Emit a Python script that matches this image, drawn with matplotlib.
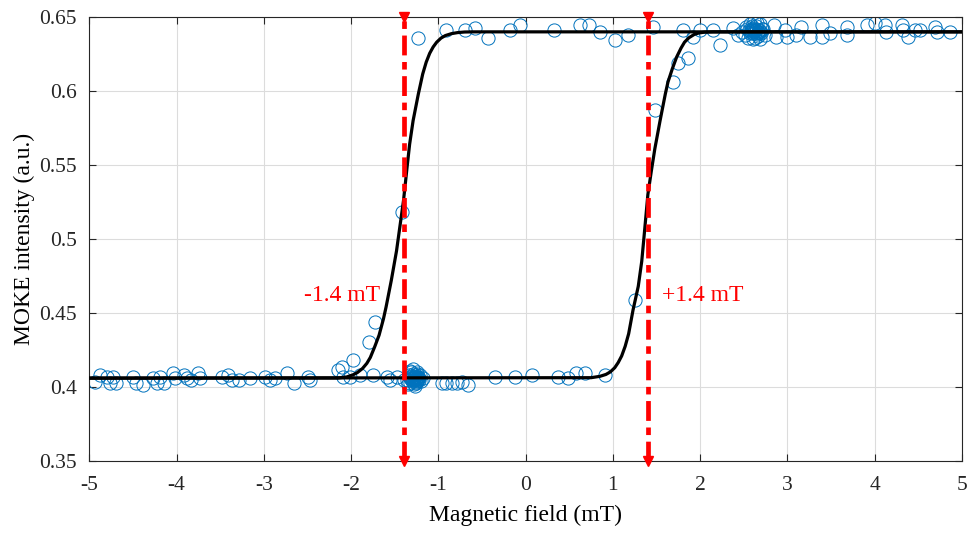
import numpy as np
import matplotlib
matplotlib.use("Agg")
import matplotlib.pyplot as plt

plt.rcParams['font.family'] = ['Liberation Serif', 'DejaVu Serif']
plt.rcParams['axes.unicode_minus'] = False

# measured points, state low (~0.406)
field_low = [-4.93, -4.88, -4.80, -4.76, -4.73, -4.69, -4.50, -4.46, -4.38, -4.27,
             -4.23, -4.19, -4.15, -4.04, -4.02, -3.92, -3.88, -3.83, -3.75, -3.73,
             -3.48, -3.41, -3.37, -3.29, -3.16, -2.99, -2.93, -2.87, -2.74, -2.66,
             -2.49, -2.47, -2.15, -2.09, -2.01, -1.90, -1.75, -1.59, -1.56, -1.48,
             -0.96, -0.91, -0.85, -0.79, -0.73, -0.66, -0.35, -0.12, 0.07, 0.37,
             0.49, 0.58, 0.68, 0.91]
moke_low = [0.4036, 0.4081, 0.4070, 0.4025, 0.4070, 0.4025, 0.4070, 0.4025, 0.4014, 0.4059,
            0.4025, 0.4070, 0.4025, 0.4093, 0.4059, 0.4081, 0.4059, 0.4047, 0.4093, 0.4059,
            0.4070, 0.4081, 0.4047, 0.4047, 0.4059, 0.4070, 0.4047, 0.4059, 0.4093, 0.4025,
            0.4070, 0.4047, 0.4115, 0.4070, 0.4070, 0.4081, 0.4081, 0.4070, 0.4047, 0.4070,
            0.4025, 0.4025, 0.4025, 0.4025, 0.4036, 0.4014, 0.4070, 0.4070, 0.4081, 0.4070,
            0.4059, 0.4093, 0.4093, 0.4081]

# dense cluster near -1.3 mT
field_blob_low = [-1.40, -1.36, -1.34, -1.33, -1.32, -1.31, -1.30, -1.30, -1.29, -1.28,
                  -1.28, -1.27, -1.26, -1.26, -1.25, -1.24, -1.24, -1.23, -1.22, -1.21,
                  -1.20, -1.32, -1.29, -1.27, -1.25, -1.30, -1.18, -1.35, -1.31, -1.29,
                  -1.27, -1.26, -1.24, -1.22, -1.33, -1.28, -1.25, -1.23, -1.30, -1.26]
moke_blob_low = [0.4050, 0.4050, 0.4080, 0.4030, 0.4070, 0.4100, 0.4040, 0.4060, 0.4090, 0.4020,
                 0.4070, 0.4050, 0.4080, 0.4030, 0.4060, 0.4100, 0.4040, 0.4070, 0.4050, 0.4080,
                 0.4040, 0.4110, 0.4120, 0.4010, 0.4090, 0.4060, 0.4060, 0.4020, 0.4055, 0.4045,
                 0.4065, 0.4055, 0.4065, 0.4060, 0.4060, 0.4050, 0.4050, 0.4055, 0.4075, 0.4035]

# switching points
field_mid = [-2.11, -1.98, -1.80, -1.73, -1.415, 1.25, 1.48, 1.69, 1.75, 1.86]
moke_mid = [0.4137, 0.4182, 0.4306, 0.4441, 0.5185, 0.4588, 0.5872, 0.6063, 0.6187, 0.6221]

# measured points, state high (~0.64)
field_high = [-1.23, -0.91, -0.70, -0.58, -0.43, -0.18, -0.07, 0.32, 0.62, 0.72,
              0.85, 1.02, 1.17, 1.46, 1.80, 1.92, 2.00, 2.15, 2.23, 2.38,
              2.43, 2.84, 2.87, 2.97, 2.99, 3.10, 3.16, 3.26, 3.39, 3.39,
              3.49, 3.68, 3.68, 3.91, 4.00, 4.12, 4.13, 4.31, 4.32, 4.38,
              4.46, 4.52, 4.69, 4.71, 4.86]
moke_high = [0.6356, 0.6412, 0.6412, 0.6423, 0.6356, 0.6412, 0.6446, 0.6412, 0.6446, 0.6446,
             0.6401, 0.6345, 0.6378, 0.6434, 0.6412, 0.6367, 0.6412, 0.6412, 0.6311, 0.6423,
             0.6378, 0.6446, 0.6367, 0.6412, 0.6367, 0.6378, 0.6434, 0.6367, 0.6446, 0.6367,
             0.6390, 0.6434, 0.6378, 0.6446, 0.6457, 0.6446, 0.6401, 0.6446, 0.6412, 0.6367,
             0.6412, 0.6412, 0.6434, 0.6401, 0.6401]

# dense cluster near 2.6 mT
field_blob_high = [2.48, 2.51, 2.53, 2.55, 2.57, 2.58, 2.60, 2.60, 2.62, 2.63,
                   2.64, 2.66, 2.67, 2.69, 2.70, 2.72, 2.74, 2.56, 2.61, 2.65,
                   2.68, 2.59, 2.63, 2.71, 2.54, 2.66, 2.58, 2.60, 2.62, 2.64,
                   2.66, 2.68, 2.57, 2.61, 2.65, 2.63, 2.59, 2.67]
moke_blob_high = [0.6400, 0.6380, 0.6430, 0.6360, 0.6450, 0.6400, 0.6350, 0.6420, 0.6470, 0.6390,
                  0.6440, 0.6370, 0.6410, 0.6450, 0.6390, 0.6420, 0.6380, 0.6410, 0.6410, 0.6460,
                  0.6350, 0.6440, 0.6360, 0.6420, 0.6420, 0.6400, 0.6415, 0.6395, 0.6405, 0.6415,
                  0.6400, 0.6405, 0.6395, 0.6425, 0.6385, 0.6410, 0.6420, 0.6395]

# fitted branches
fit_down_x = [5.0, -0.60, -0.70, -0.78, -0.85, -0.92, -0.97, -1.02, -1.06, -1.10,
              -1.14, -1.18, -1.23, -1.29, -1.33, -1.36, -1.40, -1.44, -1.48, -1.54,
              -1.60, -1.63, -1.68, -1.73, -1.78, -1.82, -1.87, -1.93, -1.98, -2.05,
              -2.15, -5.0]
fit_down_y = [0.640, 0.640, 0.6399, 0.6395, 0.6388, 0.6375, 0.6358, 0.6330, 0.6298, 0.6255,
              0.6195, 0.6115, 0.5980, 0.5800, 0.5640, 0.5480, 0.5260, 0.5090, 0.4920, 0.4720,
              0.4540, 0.4460, 0.4350, 0.4272, 0.4200, 0.4160, 0.4125, 0.4097, 0.4082, 0.4068,
              0.4061, 0.406]
fit_up_x = [-5.0, 0.75, 0.85, 0.92, 0.97, 1.02, 1.06, 1.10, 1.14, 1.18,
            1.23, 1.29, 1.33, 1.36, 1.40, 1.44, 1.48, 1.54, 1.60, 1.63,
            1.68, 1.73, 1.78, 1.82, 1.87, 1.93, 1.98, 2.05, 2.15, 5.0]
fit_up_y = [0.406, 0.4063, 0.4072, 0.4085, 0.4102, 0.4130, 0.4165, 0.4210, 0.4275, 0.4360,
            0.4520, 0.4680, 0.4850, 0.5040, 0.5300, 0.5460, 0.5610, 0.5800, 0.5980, 0.6060,
            0.6150, 0.6230, 0.6290, 0.6330, 0.6360, 0.6382, 0.6392, 0.6398, 0.6400, 0.640]

coercive = [-1.4, 1.4]
coercive_labels = ['-1.4 mT', '+1.4 mT']

fig = plt.figure(figsize=(9.69, 5.33), dpi=100)
ax = fig.add_axes([0.0922, 0.1351, 0.9006, 0.8329])

mcol = '#0072BD'
for fx, fy in [(field_low, moke_low), (field_blob_low, moke_blob_low), (field_mid, moke_mid),
               (field_high, moke_high), (field_blob_high, moke_blob_high)]:
    ax.plot(fx, fy, 'o', ms=9.5, mfc='none', mec=mcol, mew=0.7, zorder=2)

ax.plot(fit_down_x, fit_down_y, color='k', lw=2.3, zorder=3)
ax.plot(fit_up_x, fit_up_y, color='k', lw=2.3, zorder=3)

for hc in coercive:
    ax.plot([hc, hc], [0.35, 0.65], color='red', lw=3.4, ls=(0, (4.2, 1.4, 1.6, 1.4)),
            zorder=4, clip_on=False)
    ax.plot([hc, hc], [0.35, 0.65], 'v', color='red', ms=7, zorder=5, clip_on=False)

ax.text(-1.67, 0.4615, coercive_labels[0], color='red', fontsize=17, ha='right', va='center')
ax.text(1.56, 0.4615, coercive_labels[1], color='red', fontsize=17, ha='left', va='center')

ax.set_xlim(-5, 5)
ax.set_ylim(0.35, 0.65)
ax.set_xticks(np.arange(-5, 6, 1))
ax.set_yticks([0.35, 0.4, 0.45, 0.5, 0.55, 0.6, 0.65])
ax.set_yticklabels(['0.35', '0.4', '0.45', '0.5', '0.55', '0.6', '0.65'])
ax.grid(True, color='#dcdcdc', lw=0.8)
ax.set_axisbelow(True)
ax.tick_params(direction='in', top=True, right=True, labelsize=15.5, length=5,
               colors='#262626')
ax.tick_params(axis='x', pad=11)
ax.tick_params(axis='y', pad=9)
for sp in ax.spines.values():
    sp.set_color('#262626')
    sp.set_linewidth(0.8)
ax.set_xlabel('Magnetic field (mT)', fontsize=17, labelpad=7)
ax.set_ylabel('MOKE intensity (a.u.)', fontsize=17, labelpad=3)

fig.savefig('out.png', dpi=100)
